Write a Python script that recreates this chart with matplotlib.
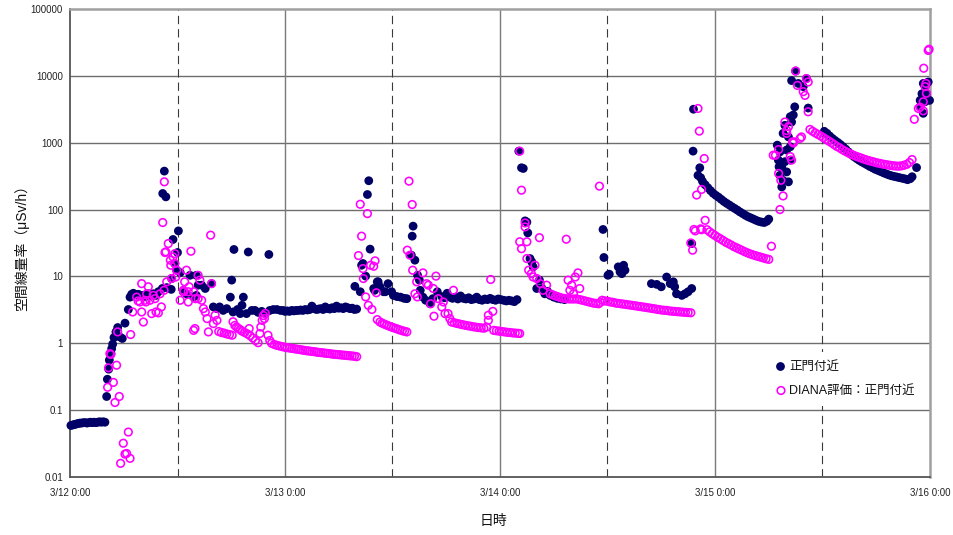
import matplotlib
matplotlib.use("Agg")
import matplotlib.pyplot as plt
from matplotlib.patches import Rectangle
import numpy as np

plt.rcParams['font.family'] = ['Liberation Sans', 'Noto Sans CJK JP']

# ---- data: hours since 3/12 0:00, air dose rate in uSv/h ----
# measured near the main gate (正門付近)
gate_hours = [
    0.1, 0.3, 0.5, 0.7, 0.9, 1.1, 1.3, 1.5, 1.7, 1.9, 2.1, 2.3, 2.5, 2.7, 2.9, 3.1, 3.3, 3.5, 3.7, 3.9,
    4.09, 4.17, 4.32, 4.39, 4.58, 4.65, 4.76, 4.91, 5.13, 5.32, 5.58, 5.84, 6.14, 6.51, 6.70, 6.88, 7.07,
    7.26, 7.44, 7.63, 7.9, 8.19, 8.45, 8.74, 9.0, 9.3, 9.6, 9.86, 10.3, 10.8, 11.3,
    10.35, 10.53, 10.7, 11.35, 11.5, 11.7, 11.9, 12.0, 12.1, 12.3, 12.65, 13.0, 13.4, 13.8, 14.1, 14.1,
    14.3, 14.7, 15.1, 15.8, 16.0, 16.4, 16.7, 17.1, 17.5, 17.9, 18.05, 18.2, 18.3, 18.7, 19.0, 19.2,
    19.35, 19.7, 19.9, 20.3, 20.65, 21.0, 21.4, 21.8, 22.2, 22.3, 22.7, 23.1, 23.5, 23.8,
    24.0, 24.25, 24.5, 24.75, 25.0, 25.25, 25.5, 25.75, 26.0, 26.25, 26.5, 26.75, 27.0, 27.25, 27.5,
    27.75, 28.0, 28.25, 28.5, 28.75, 29.0, 29.25, 29.5, 29.75, 30.0, 30.25, 30.5, 30.75, 31.0, 31.25,
    31.5, 31.75, 32.0,
    31.8, 32.4, 32.55, 32.7, 33.0, 33.2, 33.35, 33.5, 33.9, 34.0, 34.3, 34.4, 34.6, 35.0, 35.2, 35.5,
    35.9, 36.1, 36.5, 36.9, 37.3, 37.6,
    38.1, 38.2, 38.3, 38.5, 38.8, 39.0, 39.1, 39.4, 39.7, 40.2, 40.5, 41.0,
    41.5, 41.8, 42.1, 42.4, 42.7, 43.0, 43.3, 43.6, 43.9, 44.2, 44.5, 44.8, 45.1, 45.4, 45.7, 46.0,
    46.3, 46.6, 46.9, 47.2, 47.5, 47.8, 48.1, 48.4, 48.7, 49.0, 49.3, 49.6, 49.9,
    50.1, 50.4, 50.6, 50.8, 51.0, 51.1, 51.35, 51.55, 51.7, 52.1, 52.4, 52.7, 53.0, 53.3, 53.6, 54.0,
    54.4, 54.8, 55.2,
    59.5, 59.6, 60.05, 60.2, 61.2, 61.4, 61.6, 61.8, 61.95,
    64.9, 65.5, 66.0, 66.6, 67.0, 67.35, 67.5, 67.7, 68.3, 68.65, 69.0, 69.4,
    69.4, 69.55, 69.6, 70.1, 70.3, 70.4,
    70.6, 70.9, 71.2, 71.5, 71.8, 72.1, 72.4, 72.7, 73.0, 73.3, 73.6, 73.9, 74.2, 74.5, 74.8, 75.1,
    75.4, 75.7, 76.0, 76.3, 76.6, 76.9, 77.2, 77.5, 77.8, 78.0,
    78.95, 79.25, 79.07, 79.45, 79.25, 79.6, 79.45, 80.0, 80.2, 79.8, 80.0, 80.4, 79.6, 79.8, 80.2,
    80.55, 80.74, 80.4, 80.9, 80.55, 81.0, 81.3, 81.85, 82.2, 82.4, 79.15, 80.4,
    84.2, 84.5, 84.8, 85.1, 85.4, 85.7, 86.0, 86.3, 86.6, 86.9, 87.2, 87.5, 87.8, 88.1, 88.4, 88.7,
    89.0, 89.3, 89.6, 89.9, 90.2, 90.5, 90.8, 91.1, 91.4, 91.7, 92.0, 92.3, 92.6, 92.9, 93.2, 93.5,
    93.8, 94.0, 94.5,
    94.9, 94.9, 95.25, 95.45, 95.95, 95.1, 95.6, 95.45, 95.6, 95.8, 95.25,
]
gate_dose = [
    0.059, 0.060, 0.061, 0.062, 0.063, 0.064, 0.064, 0.065, 0.065, 0.064, 0.065, 0.066, 0.065, 0.066,
    0.065, 0.066, 0.067, 0.066, 0.067, 0.066,
    0.16, 0.29, 0.41, 0.56, 0.70, 0.83, 0.97, 1.22, 1.48, 1.72, 1.24, 1.18, 2.0, 3.2, 4.9, 5.4, 5.6,
    5.4, 5.3, 5.4, 5.1, 5.2, 5.0, 5.5, 5.1, 5.5, 5.2, 5.9, 6.6, 6.8, 6.4,
    174, 376, 155, 9.3, 35.7, 15.6, 12.4, 22.8, 48, 11.4, 5.9, 5.5, 10.4, 4.9, 10.4, 5.2,
    7.4, 7.4, 6.6, 7.8, 3.5, 3.3, 3.5, 3.1, 3.3, 4.9, 8.8, 2.94, 25.3, 3.2, 2.78, 3.7,
    4.9, 2.78, 23.2, 3.1, 3.1, 2.9, 3.0, 2.78, 21.3, 3.1, 3.2, 3.2, 3.1, 3.1,
    3.0, 3.05, 3.0, 3.1, 3.05, 3.1, 3.1, 3.15, 3.1, 3.2, 3.15, 3.2, 3.6, 3.3, 3.2,
    3.25, 3.3, 3.2, 3.5, 3.3, 3.25, 3.4, 3.3, 3.6, 3.35, 3.4, 3.3, 3.5, 3.4, 3.3,
    3.35, 3.2, 3.25,
    7.1, 5.9, 14.7, 15.6, 10.1, 168, 270, 25.6, 6.6, 6.2, 8.3, 8.3, 7.0, 5.9, 5.9, 7.8,
    5.9, 5.2, 5.0, 4.9, 4.7, 4.65,
    20.8, 40, 56.5, 17.5, 10.4, 8.8, 6.2, 4.9, 4.4, 3.9, 4.65, 5.9,
    5.0, 4.8, 5.6, 4.9, 4.7, 4.9, 4.6, 5.1, 4.7, 4.6, 4.8, 4.5, 4.6, 4.9, 4.5, 4.4,
    4.6, 4.5, 4.7, 4.5, 4.4, 4.6, 4.5, 4.4, 4.3, 4.4, 4.3, 4.2, 4.5,
    748, 422, 412, 67.7, 65, 44.8, 18.5, 16.5, 13.9, 6.6, 8.8, 6.6, 5.5, 6.0, 5.2, 4.9,
    4.7, 4.6, 4.5,
    50.4, 19.2, 10.4, 10.8, 13.9, 11.7, 11.0, 14.7, 12.4,
    7.8, 7.6, 7.0, 9.8, 7.8, 8.3, 7.0, 5.5, 5.2, 5.5, 5.9, 6.6,
    31, 748, 3170, 325, 422, 300,
    265, 235, 212, 192, 175, 163, 153, 142, 132, 124, 117, 110, 104, 98, 92, 87,
    82, 78, 75, 72, 69, 66.5, 65, 64, 67, 72,
    920, 730, 550, 437, 325, 273, 218, 366, 260, 520, 778, 870, 1380, 1820, 1220,
    2040, 2600, 2450, 3440, 8500, 11800, 7700, 6900, 9100, 3300, 437, 550,
    1480, 1380, 1260, 1160, 1080, 1010, 940, 870, 800, 730, 670, 620, 580, 545, 515, 490,
    465, 440, 420, 400, 385, 370, 355, 342, 330, 320, 313, 307, 300, 294, 288, 280,
    290, 310, 425,
    3440, 4300, 2750, 4100, 4300, 5400, 5400, 6900, 7700, 8100, 7700,
]

# DIANA model estimate at the main gate
diana_hours = [
    4.2, 4.3, 4.45, 4.55, 4.84, 5.02, 5.2, 5.32, 5.5, 5.65, 5.95, 6.14, 6.32, 6.51, 6.7, 6.77, 7.0,
    7.44, 7.6, 7.81, 8.0, 8.0, 8.19, 8.37, 8.48, 8.56, 8.74, 8.93, 9.12, 9.3, 9.49, 9.6, 9.86, 10.05,
    10.2, 10.35, 10.5, 10.53, 10.6, 10.7, 10.8, 10.97, 11.2, 11.25, 11.35, 11.5, 11.7, 11.7, 11.8,
    11.9, 12.3, 12.65, 12.7, 12.8, 13.0, 13.2, 13.2, 13.3, 13.5, 13.8, 13.8, 13.95, 14.0, 14.3, 14.3,
    14.5, 14.7, 14.9, 15.1, 15.3, 15.45, 15.7, 15.8, 16.0, 16.2, 16.4,
    16.6, 16.9, 17.2, 17.5, 17.8, 18.1, 18.2, 18.4, 18.6, 18.8, 19.0, 19.2, 19.5, 19.8, 20.0, 20.1,
    20.4, 20.7, 21.0, 21.2, 21.3, 21.45, 21.6, 21.8, 21.7, 22.1, 22.3, 22.5, 22.8, 23.1, 23.4, 23.7,
    24.0, 24.25, 24.5, 24.75, 25.0, 25.25, 25.5, 25.75, 26.0, 26.25, 26.5, 26.75, 27.0, 27.25, 27.5,
    27.75, 28.0, 28.25, 28.5, 28.75, 29.0, 29.25, 29.5, 29.75, 30.0, 30.25, 30.5, 30.75, 31.0, 31.25,
    31.5, 31.75, 32.0,
    32.2, 32.4, 32.55, 32.7, 32.75, 33.0, 33.2, 33.3, 33.55, 33.7, 33.9, 34.05, 34.2, 34.3,
    34.6, 34.85, 35.1, 35.35, 35.6, 35.85, 36.1, 36.35, 36.6, 36.85, 37.1, 37.35, 37.6,
    37.65, 37.84, 37.95, 38.2, 38.25, 38.5, 38.7, 38.77, 39.4, 39.8, 40.0, 40.26, 40.55, 40.63, 40.85,
    41.1, 41.5, 41.67, 41.86, 42.2, 42.4, 42.8,
    42.6, 42.9, 43.2, 43.5, 43.8, 44.1, 44.4, 44.7, 45.0, 45.3, 45.6, 45.9, 46.2, 46.5,
    46.7, 46.7, 46.96, 47.2,
    47.3, 47.6, 47.9, 48.2, 48.5, 48.8, 49.1, 49.4, 49.7, 50.0, 50.2,
    50.2, 50.2, 50.4, 50.4, 50.8, 50.8, 51.0, 51.0, 51.2, 51.5, 51.7, 51.9, 52.1, 52.4, 52.5, 52.8, 53.2,
    53.6, 53.9, 54.2, 54.5, 54.8, 55.1, 55.4, 55.7, 56.0, 56.3, 56.6, 56.9, 57.2, 57.5, 57.8, 58.1,
    58.4, 58.7, 59.0, 59.2,
    55.4, 56.7, 56.4, 55.6, 56.0, 55.8, 56.9, 56.2, 59.1,
    59.4, 59.7, 60.0, 60.3, 60.6, 60.9, 61.2, 61.5, 61.8, 62.1, 62.4, 62.7, 63.0, 63.3, 63.6, 63.9,
    64.2, 64.5, 64.8, 65.1, 65.4, 65.7, 66.0, 66.3, 66.6, 66.9, 67.2, 67.5, 67.8, 68.1, 68.4, 68.7,
    69.0, 69.3,
    69.3, 69.5, 69.65, 69.8, 69.95, 70.1, 70.25, 70.4, 70.5, 70.8, 70.9, 70.5,
    71.1, 71.4, 71.7, 72.0, 72.3, 72.6, 72.9, 73.2, 73.5, 73.8, 74.1, 74.4, 74.7, 75.0, 75.3, 75.6,
    75.9, 76.2, 76.5, 76.8, 77.1, 77.4, 77.7, 78.0, 78.3,
    78.5, 78.75, 79.1, 79.1, 79.25, 79.35, 79.6, 79.8, 80.0, 80.0, 80.2, 80.4, 80.55, 80.65, 80.75,
    80.8, 81.0, 81.2, 81.5, 81.65, 81.85, 82.05, 82.2, 82.4, 82.4,
    82.6, 82.9, 83.2, 83.5, 83.8, 84.1, 84.4, 84.7, 85.0, 85.3, 85.6, 85.9, 86.2, 86.5, 86.8, 87.1,
    87.4, 87.7, 88.0, 88.3, 88.6, 88.9, 89.2, 89.5, 89.8, 90.1, 90.4, 90.7, 91.0, 91.3, 91.6, 91.9,
    92.2, 92.5, 92.8, 93.1, 93.4, 93.7, 94.0,
    94.25, 94.7, 94.9, 95.25, 95.25, 95.3, 95.45, 95.55, 95.6, 95.8, 95.9,
]
diana_dose = [
    0.22, 0.43, 0.70, 0.68, 0.26, 0.13, 0.47, 1.48, 0.16, 0.016, 0.032, 0.022, 0.0225, 0.047, 0.019,
    1.35, 2.94,
    4.9, 4.3, 4.15, 7.8, 2.94, 2.08, 4.4, 4.15, 5.5, 7.0, 4.4, 2.78, 5.2, 4.65, 2.94, 2.85, 5.5,
    3.5, 64, 6.2, 260, 22.8, 23.3, 8.3, 31, 17.5, 14.7, 9.3, 19.6, 15.6, 21.9, 9.8,
    12.4, 4.4, 6.2, 5.9, 8.3, 12.4, 4.15, 5.9, 7.0, 23.8, 5.9, 1.56, 1.66, 4.65, 10.4, 4.65,
    8.8, 4.4, 3.3, 2.94, 2.34, 1.48, 41.4, 7.8, 1.97, 2.63, 2.2,
    1.5, 1.45, 1.42, 1.38, 1.35, 1.32, 2.1, 1.85, 1.75, 1.66, 1.6, 1.52, 1.45, 1.38, 1.66, 1.3,
    1.2, 1.1, 1.02, 1.4, 1.75, 2.2, 2.6, 2.8, 2.34, 1.32, 1.1, 1.0, 0.96, 0.93, 0.91, 0.89,
    0.87, 0.86, 0.85, 0.84, 0.83, 0.82, 0.81, 0.80, 0.79, 0.78, 0.77, 0.765, 0.755, 0.75, 0.74,
    0.73, 0.725, 0.72, 0.71, 0.705, 0.70, 0.69, 0.685, 0.68, 0.675, 0.67, 0.665, 0.66, 0.655, 0.65,
    0.645, 0.64, 0.63,
    20.5, 120, 40, 13.1, 9.3, 4.94, 87, 3.7, 14.7, 3.2, 14.2, 17.1, 5.7, 2.26,
    2.08, 2.0, 1.93, 1.87, 1.81, 1.76, 1.71, 1.67, 1.62, 1.58, 1.54, 1.51, 1.48,
    24.7, 266, 20.8, 119, 12.4, 5.5, 8.3, 4.94, 11.3, 7.8, 7.4, 3.9, 6.6, 2.54, 10.1,
    4.65, 3.5, 4.15, 2.78, 2.78, 2.34, 6.2,
    2.08, 2.03, 1.98, 1.94, 1.9, 1.86, 1.83, 1.8, 1.77, 1.74, 1.72, 1.7, 1.68, 1.75,
    2.63, 2.2, 9.0, 3.0,
    1.56, 1.54, 1.52, 1.5, 1.48, 1.46, 1.45, 1.43, 1.42, 1.41, 1.4,
    748, 33, 195, 26, 63, 55, 33, 18.5, 12.4, 11, 9.8, 14.7, 9.3, 38, 7.8, 6.2, 7.4,
    5.5, 5.3, 5.1, 4.95, 4.8, 4.7, 4.65, 4.6, 4.6, 4.6, 4.6, 4.5, 4.4, 4.3, 4.2, 4.1,
    4.0, 3.95, 3.9, 4.1,
    36, 11.3, 9.8, 8.8, 7.4, 6.2, 6.6, 5.5, 224,
    4.4, 4.3, 4.25, 4.15, 4.1, 4.0, 3.95, 3.9, 3.85, 3.8, 3.75, 3.7, 3.65, 3.6, 3.55, 3.5,
    3.45, 3.4, 3.35, 3.3, 3.25, 3.2, 3.15, 3.12, 3.1, 3.05, 3.02, 3.0, 2.97, 2.95, 2.92, 2.9,
    2.88, 2.86,
    31.7, 24.7, 50.4, 48, 165, 3250, 1490, 51.5, 200, 580, 69, 50,
    50, 46.5, 43.5, 41, 38.5, 36.5, 34.5, 32.5, 31, 29.5, 28, 26.8, 25.7, 24.6, 23.5, 22.6,
    21.8, 21.1, 20.5, 19.9, 19.4, 18.9, 18.4, 18.0, 28.3,
    650, 650, 790, 347, 100, 274, 160, 2040, 1380, 1520, 1740, 620, 550, 1030, 990,
    1030, 11800, 7200, 1160, 1220, 5800, 5100, 9100, 8100, 2900,
    1580, 1480, 1400, 1330, 1260, 1190, 1120, 1060, 1000, 940, 880, 840, 790, 750, 715, 680,
    655, 630, 610, 590, 570, 553, 538, 525, 512, 500, 490, 480, 472, 465, 458, 452,
    448, 446, 450, 460, 475, 505, 560,
    2240, 3250, 3400, 3000, 4100, 13000, 6900, 7700, 5500, 24000, 25000,
]

day_ticks = [0, 24, 48, 72, 96]
day_labels = ['3/12 0:00', '3/13 0:00', '3/14 0:00', '3/15 0:00', '3/16 0:00']
noon_lines = [12, 36, 60, 84]
y_ticks = [0.01, 0.1, 1, 10, 100, 1000, 10000, 100000]
y_labels = ['0.01', '0.1', '1', '10', '100', '1000', '10000', '100000']

NAVY = '#000066'
MAGENTA = '#ff00ff'
DOT_S = 40
RING_S = 30
RING_LW = 1.15

W, H = 954, 535
fig = plt.figure(figsize=(W / 100, H / 100), dpi=100)
ax = fig.add_axes([70 / W, 58 / H, 860 / W, 468 / H])

ax.set_yscale('log')
ax.set_xlim(0, 96)
ax.set_ylim(0.01, 100000)

ax.set_yticks(y_ticks)
ax.set_yticklabels(y_labels)
ax.yaxis.set_minor_locator(matplotlib.ticker.NullLocator())
ax.set_xticks(day_ticks)
ax.set_xticklabels(day_labels)
ax.tick_params(axis='both', length=0, labelsize=7, colors='#222222')
ax.tick_params(axis='y', pad=5)
ax.tick_params(axis='x', pad=8)

# grid: decades and day boundaries solid, noon dashed
for yv in y_ticks[1:-1]:
    ax.axhline(yv, color='#6e6e6e', lw=1.0, zorder=1)
for xv in day_ticks[1:-1]:
    ax.axvline(xv, color='#7a7a7a', lw=1.0, zorder=1)
for xv in noon_lines:
    ax.axvline(xv, color='#3a3a3a', lw=0.8, ls=(0, (7.5, 4.5)), zorder=1)

for side in ['left', 'bottom']:
    ax.spines[side].set_color('#555555')
    ax.spines[side].set_linewidth(1.3)
for side in ['top', 'right']:
    ax.spines[side].set_color('#a0a0a0')
    ax.spines[side].set_linewidth(1.8)

ax.scatter(gate_hours, gate_dose, s=DOT_S, color=NAVY, edgecolors='none',
           zorder=3, clip_on=False)
ax.scatter(diana_hours, diana_dose, s=RING_S, facecolors='none', edgecolors=MAGENTA,
           linewidths=RING_LW, zorder=4, clip_on=False)

# legend block (white background hides the dashed line behind it)
def px(xp, yp):
    return (xp - 70) / 860, (477 - yp) / 468

x0, y0 = px(772, 406)
x1, y1 = px(916, 352)
ax.add_patch(Rectangle((x0, y0), x1 - x0, y1 - y0, transform=ax.transAxes,
                       facecolor='white', edgecolor='none', zorder=5))
mx, my = px(780.5, 366.5)
ax.scatter([mx], [my], s=DOT_S, color=NAVY, edgecolors='none', transform=ax.transAxes,
           zorder=6, clip_on=False)
tx, _ = px(789, 0)
ax.text(tx, my, '正門付近', transform=ax.transAxes, fontsize=9, va='center',
        ha='left', zorder=6, color='#111111')
mx2, my2 = px(781, 390.5)
ax.scatter([mx2], [my2], s=RING_S, facecolors='none', edgecolors=MAGENTA,
           linewidths=RING_LW, transform=ax.transAxes, zorder=6, clip_on=False)
ax.text(tx, my2, 'DIANA評価：正門付近', transform=ax.transAxes, fontsize=9, va='center',
        ha='left', zorder=6, color='#111111')

fig.text(22 / W, 1 - 245 / H, '空間線量率（μSv/h）', rotation=90, fontsize=10,
         ha='center', va='center', color='#111111')
fig.text(493 / W, 1 - 521 / H, '日時', fontsize=10, ha='center', va='center',
         color='#111111')

fig.savefig('out.png', dpi=100)
